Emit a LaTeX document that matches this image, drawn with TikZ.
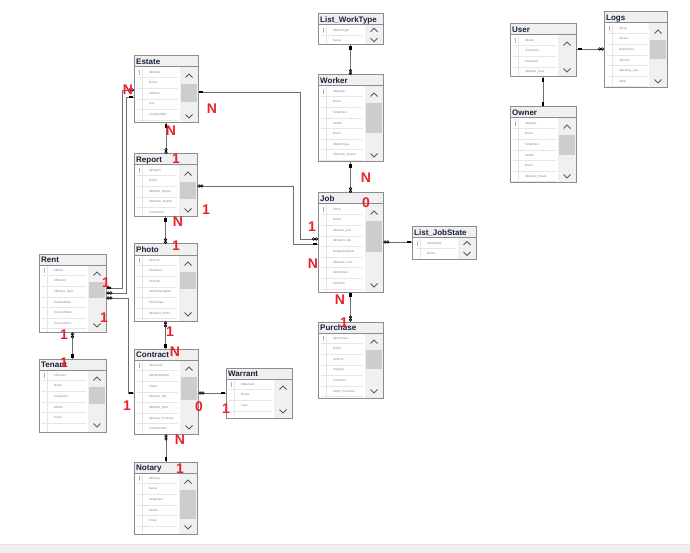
\documentclass[tikz,border=0pt]{standalone}
\usepackage{fontspec}
\setmainfont{Liberation Sans}
\definecolor{bordergray}{HTML}{8C8C8C}
\definecolor{titlebg}{HTML}{F0F0F0}
\definecolor{scrollbg}{HTML}{F0F0F0}
\definecolor{thumbgray}{HTML}{CDCDCD}
\definecolor{chevgray}{HTML}{5A5A5A}
\definecolor{sepgray}{HTML}{E6E6E6}
\definecolor{rowink}{HTML}{8A7F95}
\definecolor{titleink}{HTML}{15203A}
\definecolor{labelred}{HTML}{E8222A}
\definecolor{conngray}{HTML}{6E6E6E}
\tikzset{
  tblnode/.style={draw=none, fill=white, inner sep=0pt, outer sep=0pt},
  tblborder/.style={draw=bordergray, line width=1pt},
  titlefill/.style={fill=titlebg},
  titletext/.style={inner sep=0pt, text=titleink, font=\bfseries\fontsize{8}{9}\selectfont},
  rowtext/.style={inner sep=0pt, text=rowink, font=\fontsize{3}{3.5}\selectfont},
  rowsep/.style={draw=sepgray, line width=0.5pt},
  scrollfill/.style={fill=scrollbg},
  thumbfill/.style={fill=thumbgray},
  chev/.style={draw=chevgray, line width=1pt},
  conn/.style={draw=conngray, line width=0.7pt},
  lbl/.style={inner sep=0pt, text=labelred, font=\bfseries\fontsize{14}{14}\selectfont},
  keyh/.pic={\fill[black] (-2,-1.3) rectangle (2,1.3);},
  keyv/.pic={\fill[black] (-1.3,-2) rectangle (1.3,2);},
  infh/.pic={\draw[black,line width=0.6pt] (-1.4,0) circle[radius=1.3] (1.4,0) circle[radius=1.3];},
  infv/.pic={\draw[black,line width=0.6pt] (0,-1.4) circle[radius=1.3] (0,1.4) circle[radius=1.3];},
}
% name, x, y, w, h, title, thumb length, rows
\newcommand\dbtable[8]{%
  \pgfmathsetmacro\chup{min(8.75,(#5-11)/4)}%
  \pgfmathsetmacro\chdn{min(6.75,(#5-11)/4)}%
  \pgfmathsetmacro\chx{#2+#4-9}%
  \pgfmathsetmacro\cyu{#3+11+\chup}%
  \pgfmathsetmacro\cyd{#3+#5-\chdn}%
  \node[tblnode, minimum width=#4pt, minimum height=#5pt, anchor=north west] (#1) at (#2,#3) {};
  \begin{scope}
    \clip (#2,#3) rectangle ++(#4,#5);
    \fill[titlefill] (#2,#3) rectangle ++(#4,11);
    \node[titletext, anchor=base west] at ({#2+2},{#3+8.6}) {#6};
    \foreach \rowname [count=\i] in {#8} {
      \node[rowtext, anchor=west] at ({#2+15},{#3+11+(\i-0.5)*10.6}) {\rowname};
      \draw[rowsep] ({#2+3},{#3+11+\i*10.6}) -- ({#2+#4-20},{#3+11+\i*10.6});
    }
    \draw[rowsep] ({#2+8.5},{#3+12}) -- ({#2+8.5},{#3+#5});
    \draw[draw=gray!60, line width=0.6pt] ({#2+5},{#3+14}) -- ({#2+5},{#3+19});
    \fill[scrollfill] ({#2+#4-18},{#3+11}) rectangle ({#2+#4},{#3+#5});
    \ifnum#7>0 \fill[thumbfill] ({#2+#4-17},{#3+28}) rectangle ({#2+#4-1},{#3+28+#7}); \fi
    \draw[chev] ({\chx-3.5},{\cyu+1.75}) -- (\chx,{\cyu-1.75}) -- ({\chx+3.5},{\cyu+1.75});
    \draw[chev] ({\chx-3.5},{\cyd-1.75}) -- (\chx,{\cyd+1.75}) -- ({\chx+3.5},{\cyd-1.75});
  \end{scope}
  \draw[tblborder] (#2,#3) rectangle ++(#4,#5);
  \draw[tblborder] (#2,{#3+11}) -- ++(#4,0);
}
\begin{document}
\begin{tikzpicture}[x=1pt,y=-1pt]
\useasboundingbox (0,0) rectangle (690,553);
\fill[white] (0,0) rectangle (690,553);
\fill[titlebg] (0,544) rectangle (690,553);
\draw[sepgray, line width=0.6pt] (0,544) -- (690,544);

% tables
\dbtable{estate}{134}{56}{64}{67}{Estate}{18}{IdEstate,Name,Address,City,Length/Width,IdOwner}
\dbtable{report}{134}{154}{63}{63}{Report}{17}{IdReport,Name,IdEstate\_Report,IdWorker\_Report,Comments}
\dbtable{photo}{134}{244}{63}{77}{Photo}{17}{IdPhoto,FileName,FilePath,ShortDescription,PhotoType,IdReport\_Photo}
\dbtable{contract}{134}{349}{64}{85}{Contract}{23}{IdContract,IdentityNumber,Status,IdEstate\_Ref,IdEstate\_Rent,IdNotary\_Contract,ContractDate}
\dbtable{warrant}{226}{368}{66}{50}{Warrant}{0}{IdWarrant,Name,Type}
\dbtable{notary}{134}{462}{63}{72}{Notary}{29}{IdNotary,Name,Telephone,Mobile,Email}
\dbtable{rent}{39}{254}{67}{78}{Rent}{16}{IdRent,IdTenant,IdEstate\_Rent,CreatedDate,ContractDate,ContractEnd}
\dbtable{tenant}{39}{359}{67}{73}{Tenant}{17}{IdTenant,Name,Telephone,Mobile,Email}
\dbtable{worktype}{318}{14}{65}{31}{List\_WorkType}{0}{IdWorkType,Name}
\dbtable{worker}{318}{75}{65}{87}{Worker}{30}{IdWorker,Name,Telephone,Mobile,Email,IdWorkType,IdWorker\_Report}
\dbtable{job}{318}{193}{65}{99}{Job}{31}{IdJob,Name,IdEstate\_Job,IdReport\_Job,BudgetEstimate,IdWorker\_Job,IdJobState,Finished}
\dbtable{jobstate}{412}{227}{64}{32}{List\_JobState}{0}{IdJobState,Name}
\dbtable{purchase}{318}{322}{65}{76}{Purchase}{19}{IdPurchase,Name,Amount,Supplier,Comment,IdJob\_Purchase}
\dbtable{user}{510}{24}{66}{53}{User}{0}{IdUser,Username,Password,IdOwner\_User}
\dbtable{logs}{604}{12}{63}{76}{Logs}{19}{IdLog,IdUser,DateAction,IdAction,IdActivity\_Log,Table}
\dbtable{owner}{510}{107}{66}{76}{Owner}{20}{IdOwner,Name,Telephone,Mobile,Email,IdOwner\_Estate}

% connectors
\draw[conn] (worktype.south) -- (worktype.south |- worker.north);
\draw[conn] (worker.south) -- (worker.south |- job.north);
\draw[conn] (job.south) -- (job.south |- purchase.north);
\draw[conn] (estate.south) -- (estate.south |- report.north);
\draw[conn] (report.south) -- (report.south |- photo.north);
\draw[conn] (photo.south) -- (photo.south |- contract.north);
\draw[conn] (contract.south) -- (contract.south |- notary.north);
\draw[conn] (rent.south) -- (rent.south |- tenant.north);
\draw[conn] (user.south) -- (user.south |- owner.north);
\draw[conn] ([yshift=-36pt]estate.north east) -- ++(102,0) |- ([yshift=-46pt]job.north west);
\draw[conn] ([yshift=-32pt]report.north east) -- ++(96,0) |- ([yshift=-51pt]job.north west);
\draw[conn] ([yshift=-34pt]rent.north east) -- ++(16,0) |- ([yshift=-34pt]estate.north west);
\draw[conn] ([yshift=-39pt]rent.north east) -- ++(20,0) |- ([yshift=-41pt]estate.north west);
\draw[conn] ([yshift=-44pt]rent.north east) -- ++(22,0) |- ([yshift=-44pt]contract.north west);
\draw[conn] ([yshift=-44pt]contract.north east) -- ([yshift=-25pt]warrant.north west);
\draw[conn] ([yshift=-49pt]job.north east) -- ([yshift=-15pt]jobstate.north west);
\draw[conn] ([yshift=-25pt]user.north east) -- ([yshift=-37pt]logs.north west);

% end marks
\pic at (350.5,48) {keyv};   \pic at (350.5,72) {infv};
\pic at (350.5,166) {keyv};  \pic at (350.5,190) {infv};
\pic at (350.5,295) {keyv};  \pic at (350.5,318.5) {infv};
\pic at (166,126) {keyv};    \pic at (166,151) {infv};
\pic at (165.5,220) {keyv};  \pic at (165.5,241) {infv};
\pic at (165.5,324.5) {infv};\pic at (165.5,346) {keyv};
\pic at (166,437.5) {infv};  \pic at (166,459) {keyv};
\pic at (72.5,335.5) {infv}; \pic at (72.5,356) {keyv};
\pic at (543,80) {keyv};     \pic at (543,104) {keyv};
\pic at (201,92) {keyh};     \pic at (315,239) {infh};
\pic at (200.5,186) {infh};  \pic at (315,244) {keyh};
\pic at (109,288) {keyh};    \pic at (131,90) {infh};
\pic at (109.5,293) {infh};  \pic at (131,97) {keyh};
\pic at (109.5,298) {infh};  \pic at (131,393) {keyh};
\pic at (201.5,393) {infh};  \pic at (223,393) {keyh};
\pic at (386.5,242) {infh};  \pic at (409,242) {keyh};
\pic at (579.5,49) {keyh};   \pic at (601,49) {infh};

% cardinality labels
\node[lbl] (l1) at (128,90) {N};
\node[lbl] (l2) at (212,109) {N};
\node[lbl] (l3) at (171,131) {N};
\node[lbl] (l4) at (176,159) {1};
\node[lbl] (l5) at (206,210) {1};
\node[lbl] (l6) at (178,222) {N};
\node[lbl] (l7) at (176,246) {1};
\node[lbl] (l8) at (106,283) {1};
\node[lbl] (l9) at (104,318) {1};
\node[lbl] (l10) at (64,335) {1};
\node[lbl] (l11) at (64,363) {1};
\node[lbl] (l12) at (170,332) {1};
\node[lbl] (l13) at (175,352) {N};
\node[lbl] (l14) at (127,406) {1};
\node[lbl] (l15) at (199,407) {0};
\node[lbl] (l16) at (226,409) {1};
\node[lbl] (l17) at (180,440) {N};
\node[lbl] (l18) at (180,469) {1};
\node[lbl] (l19) at (366,178) {N};
\node[lbl] (l20) at (366,203) {0};
\node[lbl] (l21) at (312,227) {1};
\node[lbl] (l22) at (313,264) {N};
\node[lbl] (l23) at (340,300) {N};
\node[lbl] (l24) at (344,323) {1};
\end{tikzpicture}
\end{document}
